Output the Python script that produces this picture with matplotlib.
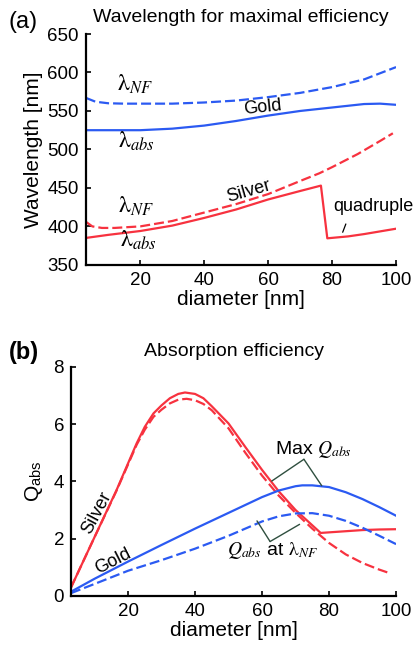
import matplotlib.pyplot as plt

plt.rcParams['font.family'] = ['Liberation Sans', 'DejaVu Sans']
plt.rcParams['mathtext.fontset'] = 'stix'

RED = '#f7323f'
BLUE = '#2b5af2'
LEADER = '#2f4f3f'

# ---- (a) wavelength for maximal efficiency ----
gold_nf_d = [3, 6, 10, 15, 20, 30, 40, 50, 60, 70, 80, 90, 100]
gold_nf_wl = [567, 562, 560, 559.5, 559.5, 559.5, 561, 563.5, 568, 573.5, 581, 591, 607]

gold_abs_d = [3, 10, 20, 30, 40, 50, 60, 70, 80, 90, 95, 100]
gold_abs_wl = [525, 525, 525, 527, 531, 537, 544, 550, 554.5, 559, 559.5, 558]

silver_nf_d = [3, 5, 8, 12, 20, 30, 40, 50, 60, 70, 76, 80, 88, 95, 99]
silver_nf_wl = [406, 400, 398, 398, 400, 407, 418, 429, 442, 459, 469, 477, 494, 511, 521]

silver_abs_d = [3, 10, 20, 30, 40, 50, 60, 70, 76.5, 78.5, 85, 90, 95, 100]
silver_abs_wl = [385, 389, 394, 401, 411, 422, 435, 446, 453, 384.5, 387, 390, 393.5, 397]

# ---- (b) absorption efficiency ----
silver_max_d = [3, 10, 16.6, 22.6, 25, 27.6, 30, 32.5, 35, 37, 40, 42.5, 45, 50, 55, 60, 65, 70,
                77.5, 85, 90, 95, 100]
silver_max_q = [0.3, 2.05, 3.7, 5.33, 5.9, 6.37, 6.65, 6.9, 7.05, 7.1, 7.05, 6.9, 6.62, 6.02, 5.2,
                4.4, 3.65, 3.0, 2.2, 2.26, 2.3, 2.32, 2.33]

silver_nf_qd = [3, 10, 16.6, 22.6, 25, 27.6, 30, 32.5, 35, 37.5, 40, 42.5, 45, 50, 55, 60, 65, 70,
                75, 80, 85, 90, 95, 98]
silver_nf_q = [0.3, 2.05, 3.68, 5.28, 5.8, 6.25, 6.5, 6.72, 6.85, 6.88, 6.83, 6.7, 6.48, 5.85, 5.0,
               4.2, 3.5, 2.9, 2.35, 1.85, 1.45, 1.15, 0.92, 0.8]

gold_max_d = [3, 10, 20, 30, 40, 50, 60, 65, 70, 72, 75, 80, 85, 90, 95, 100]
gold_max_q = [0.15, 0.6, 1.2, 1.78, 2.35, 2.9, 3.45, 3.68, 3.83, 3.86, 3.86, 3.8, 3.62, 3.38, 3.1, 2.8]

gold_nf_qd = [3, 10, 20, 30, 40, 50, 60, 65, 70, 75, 80, 85, 90, 95, 100]
gold_nf_q = [0.1, 0.42, 0.88, 1.25, 1.65, 2.1, 2.6, 2.78, 2.88, 2.89, 2.8, 2.62, 2.38, 2.1, 1.81]

x_ticks = [20, 40, 60, 80, 100]

fig = plt.figure(figsize=(4.13, 6.54), dpi=100)
ax1 = fig.add_axes([0.208, 0.595, 0.751, 0.353])
ax2 = fig.add_axes([0.172, 0.0887, 0.787, 0.3506])

lw = 1.6
dash = (4.5, 1.8)


def style(ax):
    for s in ['top', 'right']:
        ax.spines[s].set_visible(False)
    for s in ['left', 'bottom']:
        ax.spines[s].set_linewidth(1.6)
    ax.tick_params(direction='in', length=3.5, width=1.2, labelsize=13.5, pad=5)
    ax.set_xticks(x_ticks)
    ax.set_xlim(3, 100)
    ax.set_xlabel('diameter [nm]', fontsize=15, labelpad=1)


# panel (a)
ax1.plot(gold_nf_d, gold_nf_wl, color=BLUE, lw=lw, dashes=dash)
ax1.plot(gold_abs_d, gold_abs_wl, color=BLUE, lw=lw)
ax1.plot(silver_nf_d, silver_nf_wl, color=RED, lw=lw, dashes=dash)
ax1.plot(silver_abs_d, silver_abs_wl, color=RED, lw=lw)
style(ax1)
ax1.set_ylim(350, 650)
ax1.set_yticks([350, 400, 450, 500, 550, 600, 650])
ax1.set_ylabel('Wavelength [nm]', fontsize=15, labelpad=3)
ax1.set_title('Wavelength for maximal efficiency', fontsize=14, pad=9)

fs_l = 17
ax1.text(12.8, 584, r'$\mathrm{\lambda}_{NF}$', fontsize=fs_l, va='center')
ax1.text(13.0, 511, r'$\mathrm{\lambda}_{abs}$', fontsize=fs_l, va='center')
ax1.text(13.1, 426, r'$\mathrm{\lambda}_{NF}$', fontsize=fs_l, va='center')
ax1.text(13.8, 382, r'$\mathrm{\lambda}_{abs}$', fontsize=fs_l, va='center')
ax1.text(58.4, 555, 'Gold', fontsize=13, rotation=6, ha='center', va='center')
ax1.text(53.8, 445, 'Silver', fontsize=13, rotation=16, ha='center', va='center')
ax1.text(92.8, 426, 'quadruple', fontsize=13, ha='center', va='center')
ax1.annotate('', xy=(83, 389), xytext=(84.6, 406.5),
             arrowprops=dict(arrowstyle='-', color='black', lw=0.9))

# panel (b)
ax2.plot(silver_max_d, silver_max_q, color=RED, lw=lw)
ax2.plot(silver_nf_qd, silver_nf_q, color=RED, lw=lw, dashes=dash)
ax2.plot(gold_max_d, gold_max_q, color=BLUE, lw=lw)
ax2.plot(gold_nf_qd, gold_nf_q, color=BLUE, lw=lw, dashes=dash)
style(ax2)
ax2.set_ylim(0, 8)
ax2.set_yticks([0, 2, 4, 6, 8])
ax2.set_ylabel(r'Q$_{\mathregular{abs}}$', fontsize=15, labelpad=6)
ax2.set_title('Absorption efficiency', fontsize=14, pad=8)

ax2.text(10.8, 2.9, 'Silver', fontsize=13, rotation=62, ha='center', va='center')
ax2.text(15.6, 1.2, 'Gold', fontsize=13, rotation=27, ha='center', va='center')
ax2.text(75.5, 5.1, r'Max $Q_{abs}$', fontsize=14, ha='center', va='center')
ax2.text(63.0, 1.6, r'$Q_{abs}$ at $\mathrm{\lambda}_{NF}$', fontsize=14, ha='center', va='center')
for end in [(62.9, 4.01), (77.8, 3.85)]:
    ax2.annotate('', xy=end, xytext=(72.5, 4.77),
                 arrowprops=dict(arrowstyle='-', color=LEADER, lw=1.0, shrinkA=0, shrinkB=0))
for end in [(58.5, 2.62), (71.2, 2.5)]:
    ax2.annotate('', xy=end, xytext=(62.4, 1.9),
                 arrowprops=dict(arrowstyle='-', color=LEADER, lw=1.0, shrinkA=0, shrinkB=0))

fig.text(0.057, 0.966, '(a)', fontsize=17, ha='center', va='center')
fig.text(0.057, 0.461, '(b)', fontsize=17, ha='center', va='center', fontweight='bold')

fig.savefig('out.png', dpi=100)
